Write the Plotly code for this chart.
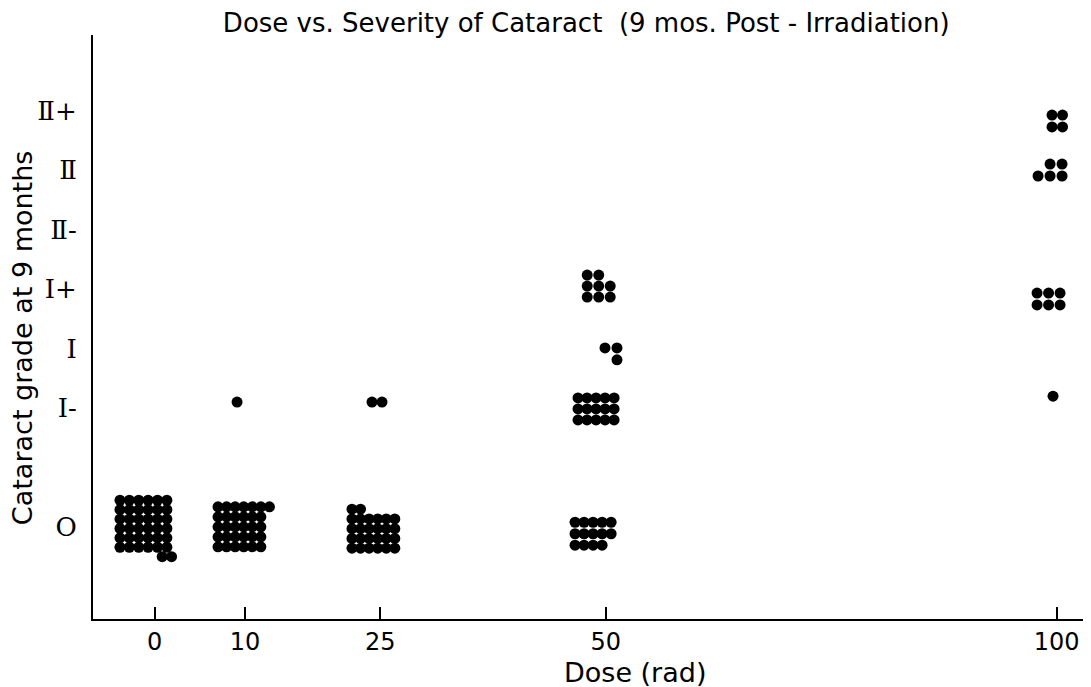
import plotly.graph_objects as go

# ---- data -------------------------------------------------------------
doses = [0, 10, 25, 50, 100]
grade_vals = [0, 2, 3, 4, 5, 6, 7]
grade_labels = ["O", "Ⅰ-", "Ⅰ", "Ⅰ+", "Ⅱ-", "Ⅱ", "Ⅱ+"]

# each cluster: dose, grade, number of dots per row (top to bottom)
cluster_dose = [0, 10, 10, 25, 25, 50, 50, 50, 50, 100, 100, 100, 100]
cluster_grade = [0, 0, 2, 0, 2, 0, 2, 3, 4, 7, 6, 4, 2]
cluster_rows = [
    [6, 6, 6, 6, 6, 6, 2],
    [7, 6, 6, 6, 6],
    [1],
    [2, 6, 6, 6, 6],
    [2],
    [5, 5, 4],
    [5, 5, 5],
    [2, 1],
    [2, 3, 3],
    [2, 2],
    [2, 3],
    [3, 3],
    [1],
]

# ---- dot-packing style (offsets/spacing in axis units) ----------------
# (x offset of first column, column step, y offset of top row, row step, per-row column shifts)
pack_style = [
    (-3.85, 1.04, 0.45, 0.158, [0, 0, 0, 0, 0, 0, 4.5]),
    (-2.98, 0.95, 0.34, 0.168, [0, 0, 0, 0, 0]),
    (-0.87, 1.0, 0.10, 0.2, [0]),
    (-3.13, 0.95, 0.30, 0.164, [0, 0, 0, 0, 0]),
    (-0.91, 1.11, 0.10, 0.2, [0]),
    (-3.40, 1.0, 0.08, 0.193, [0, 0, 0]),
    (-3.07, 1.0, 0.17, 0.185, [0, 0, 0]),
    (-0.08, 1.33, 0.01, 0.2, [0, 1]),
    (-2.05, 1.275, 0.235, 0.185, [0, 0, 0]),
    (-0.52, 1.164, -0.076, 0.2, [0, 0]),
    (-2.07, 1.33, 0.10, 0.2, [1, 0]),
    (-2.18, 1.275, -0.067, 0.2, [0, 0]),
    (-0.41, 1.0, 0.20, 0.2, [0]),
]

xs, ys = [], []
for d, g, rows, st in zip(cluster_dose, cluster_grade, cluster_rows, pack_style):
    x0, sx, y0, sy, shifts = st
    for j, (n, sh) in enumerate(zip(rows, shifts)):
        for k in range(n):
            xs.append(d + x0 + (sh + k) * sx)
            ys.append(g + y0 - j * sy)

fig = go.Figure()
fig.add_trace(go.Scatter(
    x=xs, y=ys, mode="markers",
    marker=dict(size=11, color="black", line=dict(width=0)),
    showlegend=False, hoverinfo="skip",
))

font_main = "DejaVu Sans"
# page body adds an 8px offset: figure is sized/margined to compensate
fig.update_layout(
    width=1091, height=687,
    margin=dict(l=85, r=8, t=27, b=76, autoexpand=False),
    paper_bgcolor="white", plot_bgcolor="white",
    title=dict(
        text="Dose vs. Severity of Cataract  (9 mos. Post - Irradiation)",
        x=0.53, xanchor="center", y=0.978, yanchor="middle",
        font=dict(family=font_main, size=26, color="black"),
    ),
    xaxis=dict(
        range=[-6.84, 103.8], tickvals=doses, ticktext=[str(d) for d in doses],
        ticks="inside", ticklen=12, tickwidth=1.5, tickcolor="black",
        showline=True, linewidth=2, linecolor="black",
        showgrid=False, zeroline=False, automargin=False,
        tickfont=dict(family=font_main, size=24, color="black"),
    ),
    yaxis=dict(
        range=[-1.546, 8.27], tickvals=grade_vals, ticktext=grade_labels,
        ticks="", showline=True, linewidth=2, linecolor="black",
        showgrid=False, zeroline=False, ticklabelstandoff=9, automargin=False,
        tickfont=dict(family="DejaVu Serif", size=26, color="black"),
    ),
    annotations=[
        dict(text="Dose (rad)", xref="paper", yref="paper", x=0.543, y=-0.091,
             xanchor="center", yanchor="middle", showarrow=False,
             font=dict(family=font_main, size=27, color="black")),
        dict(text="Cataract grade at 9 months", xref="paper", yref="paper",
             x=-0.0711, y=0.481, xanchor="center", yanchor="middle",
             textangle=-90, showarrow=False,
             font=dict(family=font_main, size=27, color="black")),
    ],
)

fig.write_html("out.html")
